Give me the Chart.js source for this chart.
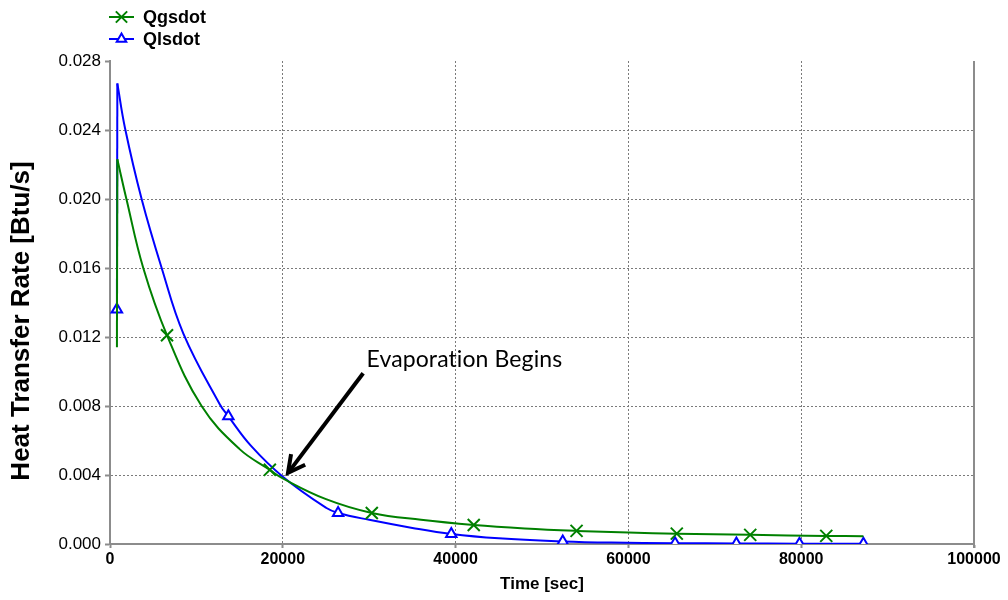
<!DOCTYPE html>
<html>
<head>
<meta charset="utf-8">
<script src="https://cdn.jsdelivr.net/npm/chart.js@4.4.1/dist/chart.umd.min.js"></script>
<style>
  html, body { margin: 0; padding: 0; background: #ffffff; }
  #wrap { width: 1008px; height: 600px; }
</style>
</head>
<body>
<div id="wrap"><canvas id="chart" width="1008" height="600"></canvas></div>
<script>
// Gas-side heat transfer rate (Qgsdot): time [s], rate [Btu/s], 1 = draw a marker
const gasTime  = [800, 850, 1900, 3850, 6600, 10600, 15000, 18500, 20000, 25000, 30300, 36000, 42100, 48000, 54000, 60000, 65600, 74100, 82900, 87200];
const gasRate  = [0.0114, 0.0223, 0.0200, 0.0160, 0.0121, 0.0080, 0.0055, 0.0043, 0.0038, 0.0026, 0.0018, 0.0014, 0.0011, 0.0009, 0.00076, 0.00066, 0.0006, 0.00053, 0.00047, 0.00045];
const gasMarks = [0, 0, 0, 0, 1, 0, 0, 1, 0, 0, 1, 0, 1, 0, 1, 0, 1, 1, 1, 0];

// Liquid-side heat transfer rate (Qlsdot)
const liqTime  = [800, 850, 1740, 3660, 5980, 8490, 12700, 13700, 16300, 20000, 25000, 26400, 30000, 35000, 39500, 45000, 52400, 58000, 65400, 72500, 79800, 87200];
const liqRate  = [0.0136, 0.0267, 0.0241, 0.0200, 0.0160, 0.0122, 0.0081, 0.0074, 0.0057, 0.0039, 0.0021, 0.00180, 0.0014, 0.00093, 0.00058, 0.00033, 0.00015, 0.00008, 0.00005, 0.00003, 0.00002, 0.00002];
const liqMarks = [1, 0, 0, 0, 0, 0, 0, 1, 0, 0, 0, 1, 0, 0, 1, 0, 1, 0, 1, 1, 1, 1];

const seriesNames = ['Qgsdot', 'Qlsdot'];
const xTitle = 'Time [sec]';
const yTitle = 'Heat Transfer Rate [Btu/s]';

// Annotation, in data coordinates (time, rate)
const noteText = 'Evaporation Begins';
const noteTextAt = [29700, 0.01026];
const noteArrowTail = [29300, 0.0099];
const noteArrowTip = [20600, 0.00412];

const FONT = "'Liberation Sans', Arial, sans-serif";
const GREEN = '#008000';
const BLUE = '#0000ff';
const AXIS_GREY = '#8c8c8c';
const GRID_GREY = '#7a7a7a';

function toPoints(xs, ys) {
  return xs.map((x, i) => ({ x: x, y: ys[i] }));
}

// Each series: a straight start-up jump (first two samples) and a smooth decay from the peak on
function seriesDatasets(name, xs, ys, marks, style) {
  const radius = marks.map(m => (m ? style.radius : 0));
  const common = {
    borderColor: style.color,
    borderWidth: 2,
    pointStyle: style.pointStyle,
    pointBorderWidth: 2,
    pointBorderColor: style.color,
    pointBackgroundColor: style.fill,
    fill: false,
    clip: 0
  };
  return [
    Object.assign({}, common, {
      label: name,
      showInLegend: true,
      data: toPoints(xs.slice(1), ys.slice(1)),
      pointRadius: radius.slice(1),
      tension: 0.4
    }),
    Object.assign({}, common, {
      label: name,
      showInLegend: false,
      data: toPoints(xs.slice(0, 2), ys.slice(0, 2)),
      pointRadius: [radius[0], 0],
      tension: 0
    })
  ];
}

const gasStyle = { color: GREEN, fill: GREEN, pointStyle: 'crossRot', radius: 8.5 };
const liqStyle = { color: BLUE, fill: '#ffffff', pointStyle: 'triangle', radius: 6 };

const datasets = [].concat(
  seriesDatasets(seriesNames[0], gasTime, gasRate, gasMarks, gasStyle),
  seriesDatasets(seriesNames[1], liqTime, liqRate, liqMarks, liqStyle)
);

// Solid right-hand frame edge and the rotated value-axis title
const frameEdge = {
  id: 'frameEdge',
  beforeDatasetsDraw(chart) {
    const { ctx, chartArea: a } = chart;
    ctx.save();
    ctx.strokeStyle = AXIS_GREY;
    ctx.lineWidth = 2;
    ctx.beginPath();
    ctx.moveTo(a.right, a.top);
    ctx.lineTo(a.right, a.bottom + 4);
    ctx.stroke();

    ctx.translate(22, 321);
    ctx.rotate(-Math.PI / 2);
    ctx.fillStyle = '#000000';
    ctx.font = 'bold 26px ' + FONT;
    ctx.textAlign = 'center';
    ctx.textBaseline = 'middle';
    ctx.fillText(yTitle, 0, 0);
    ctx.restore();
  }
};

// Two-row legend: line sample with its marker, then the series name
const lineLegend = {
  id: 'lineLegend',
  afterDraw(chart) {
    const { ctx } = chart;
    const shown = chart.data.datasets.filter(ds => ds.showInLegend);
    const rows = [17, 39];
    ctx.save();
    shown.forEach((ds, i) => {
      const y = rows[i];
      ctx.strokeStyle = ds.borderColor;
      ctx.lineWidth = 2;
      ctx.beginPath();
      ctx.moveTo(109, y);
      ctx.lineTo(134, y);
      ctx.stroke();
      ctx.fillStyle = ds.pointBackgroundColor;
      ctx.strokeStyle = ds.pointBorderColor;
      ctx.lineWidth = 2;
      const r = ds.pointStyle === 'triangle' ? 5.5 : 8;
      Chart.helpers.drawPoint(ctx, { pointStyle: ds.pointStyle, radius: r, rotation: 0, borderWidth: 2 }, 121.5, y);
      ctx.fillStyle = '#000000';
      ctx.font = 'bold 18px ' + FONT;
      ctx.textBaseline = 'middle';
      ctx.textAlign = 'left';
      ctx.fillText(ds.label, 143, y + 1);
    });
    ctx.restore();
  }
};

// Arrow and caption marking the start of evaporation
const evapNote = {
  id: 'evapNote',
  afterDatasetsDraw(chart) {
    const { ctx, scales: { x, y } } = chart;
    const tx = x.getPixelForValue(noteArrowTip[0]);
    const ty = y.getPixelForValue(noteArrowTip[1]);
    const sx = x.getPixelForValue(noteArrowTail[0]);
    const sy = y.getPixelForValue(noteArrowTail[1]);
    const ang = Math.atan2(ty - sy, tx - sx);
    const head = 19;
    const spread = Math.PI / 6.5;
    ctx.save();
    ctx.strokeStyle = '#000000';
    ctx.lineWidth = 4;
    ctx.lineCap = 'butt';
    ctx.lineJoin = 'miter';
    ctx.beginPath();
    ctx.moveTo(sx, sy);
    ctx.lineTo(tx - Math.cos(ang) * 2, ty - Math.sin(ang) * 2);
    ctx.stroke();
    ctx.beginPath();
    ctx.moveTo(tx - Math.cos(ang - spread) * head, ty - Math.sin(ang - spread) * head);
    ctx.lineTo(tx, ty);
    ctx.lineTo(tx - Math.cos(ang + spread) * head, ty - Math.sin(ang + spread) * head);
    ctx.stroke();
    ctx.fillStyle = '#000000';
    ctx.font = "23px Lato, 'Open Sans', sans-serif";
    ctx.letterSpacing = '0.1px';
    ctx.textBaseline = 'alphabetic';
    ctx.textAlign = 'left';
    ctx.fillText(noteText, x.getPixelForValue(noteTextAt[0]), y.getPixelForValue(noteTextAt[1]));
    ctx.restore();
  }
};

new Chart(document.getElementById('chart').getContext('2d'), {
  type: 'line',
  data: { datasets: datasets },
  options: {
    responsive: false,
    animation: false,
    events: [],
    layout: { padding: { top: 61, right: 34, left: 0, bottom: 0 } },
    plugins: {
      legend: { display: false },
      tooltip: { enabled: false }
    },
    scales: {
      x: {
        type: 'linear',
        min: 0,
        max: 100000,
        afterFit(scale) { scale.height = 56; },
        ticks: {
          stepSize: 20000,
          autoSkip: false,
          maxRotation: 0,
          padding: 2,
          color: '#000000',
          font: { family: FONT, size: 16, weight: 'bold' },
          callback: v => String(v)
        },
        grid: {
          color: c => (c.tick && (c.tick.value === 0 || c.tick.value === 100000)) ? 'rgba(0,0,0,0)' : GRID_GREY,
          lineWidth: 1,
          tickLength: 4,
          tickColor: AXIS_GREY,
          tickWidth: 2,
          tickBorderDash: []
        },
        border: { display: true, color: AXIS_GREY, width: 2, dash: [2, 2] },
        title: {
          display: true,
          text: xTitle,
          color: '#000000',
          font: { family: FONT, size: 17, weight: 'bold' },
          padding: { top: 0, bottom: 5 }
        }
      },
      y: {
        min: 0,
        max: 0.028,
        afterFit(scale) { scale.width = 110; },
        ticks: {
          stepSize: 0.004,
          padding: 4,
          color: '#000000',
          font: { family: FONT, size: 17 },
          callback: v => Number(v).toFixed(3)
        },
        grid: {
          color: c => (c.index === 0 || c.index === 7) ? 'rgba(0,0,0,0)' : GRID_GREY,
          lineWidth: 1,
          tickLength: 5,
          tickColor: AXIS_GREY,
          tickWidth: 2,
          tickBorderDash: []
        },
        border: { display: true, color: AXIS_GREY, width: 2, dash: [2, 2] },
        title: { display: false }
      }
    }
  },
  plugins: [frameEdge, evapNote, lineLegend]
});
</script>
</body>
</html>
